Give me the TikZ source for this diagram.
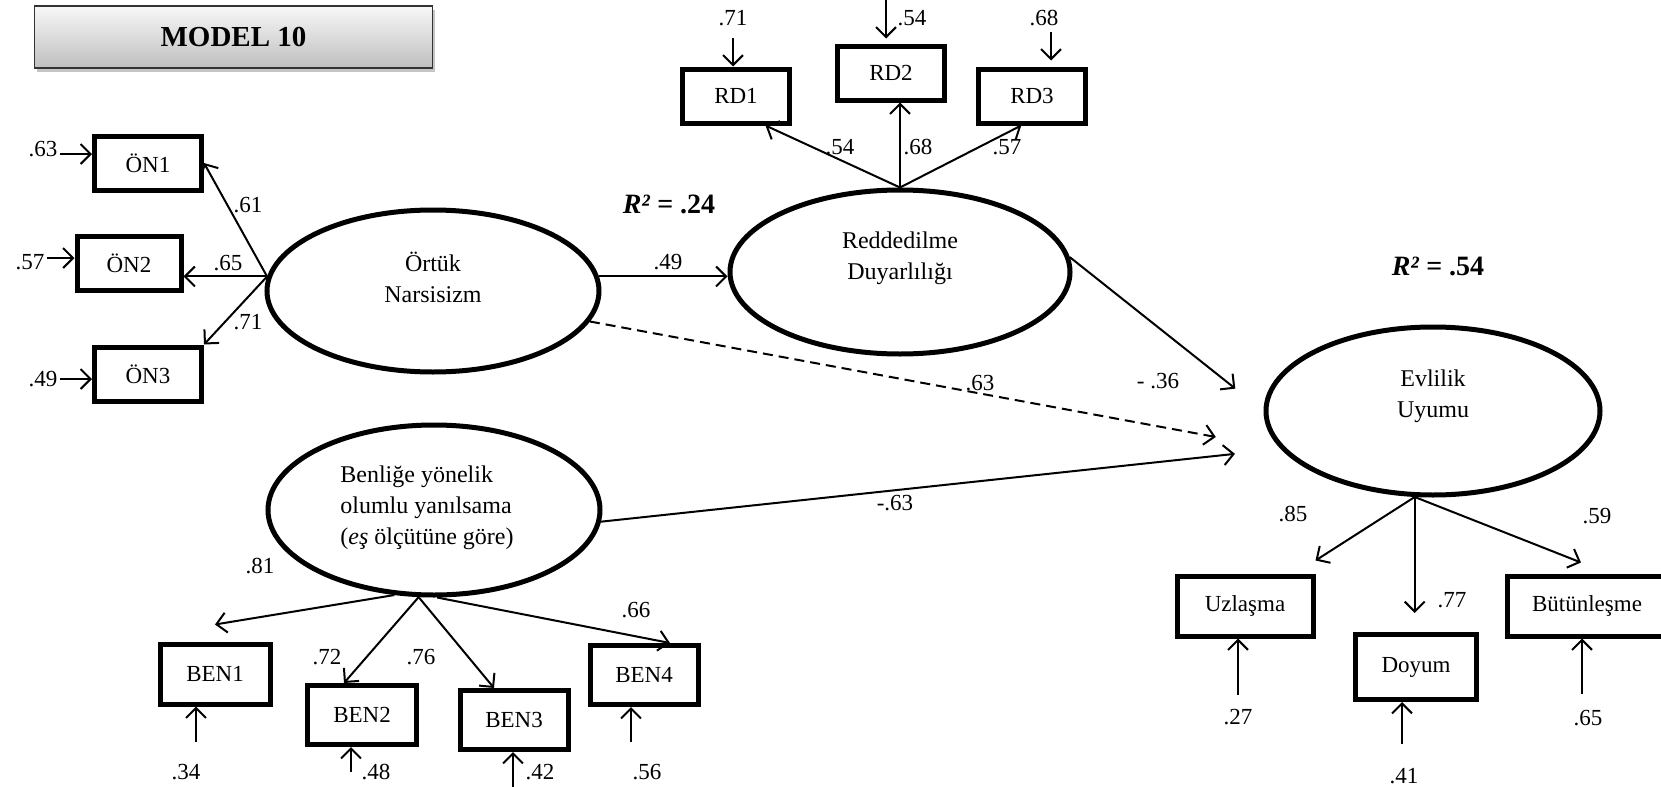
\documentclass[tikz,border=0pt]{standalone}
\usepackage{fontspec}
\setmainfont{Liberation Serif}
\usetikzlibrary{positioning,shapes.geometric,arrows.meta,shadows}

\tikzset{
  lat/.style={draw, ellipse, line width=2.5pt, inner sep=0pt},
  obs/.style={draw, rectangle, line width=2.5pt, inner sep=0pt, minimum width=53.5pt, minimum height=27pt},
  arr/.style={line width=1pt, -{Straight Barb[length=5pt,width=10pt]}},
  lbl/.style={inner sep=1pt},
  txt/.style={align=center, font=\fontsize{12}{15.5}\selectfont},
  rsq/.style={font=\fontsize{14}{16}\selectfont\bfseries},
  title/.style={draw=black!80, line width=0.8pt, top color=black!3, bottom color=black!25,
    drop shadow={shadow xshift=1pt, shadow yshift=-2pt, fill=black!45},
    font=\fontsize{14.5}{17}\selectfont\bfseries}
}

\begin{document}
\begin{tikzpicture}[x=0.5pt, y=-0.5pt, font=\fontsize{11.5}{14}\selectfont]
\useasboundingbox (0,0) rectangle (1661,787);

\node[title, minimum width=199pt, minimum height=31pt] (model) at (233.5,37) {MODEL 10};

\node[lat, minimum width=166pt, minimum height=81pt, label={[txt, yshift=7pt]center:Örtük\\Narsisizm}] (ortuk) at (433,291) {};
\node[lat, minimum width=170pt, minimum height=82pt, label={[txt, yshift=7pt]center:Reddedilme\\Duyarlılığı}] (redd) at (900,272) {};
\node[lat, minimum width=167pt, minimum height=84pt, label={[txt, yshift=7.5pt]center:Evlilik\\Uyumu}] (evl) at (1433,411) {};
\node[lat, minimum width=166pt, minimum height=85pt, label={[txt, align=left, xshift=-3.5pt, yshift=1pt]center:Benliğe yönelik\\olumlu yanılsama\\(\textit{eş} ölçütüne göre)}] (benl) at (434,510) {};

\node[obs] (on1) at (148,163) {ÖN1};
\node[obs, minimum width=52pt] (on2) at (129,263) {ÖN2};
\node[obs] (on3) at (148,374) {ÖN3};
\node[obs] (rd1) at (736,96) {RD1};
\node[obs] (rd2) at (891,73) {RD2};
\node[obs] (rd3) at (1032,96) {RD3};
\node[obs, minimum width=68pt, minimum height=30pt] (uzl) at (1245,606) {Uzlaşma};
\node[obs, minimum width=60.5pt, minimum height=32.5pt] (doy) at (1416,667) {Doyum};
\node[obs, minimum width=80pt, minimum height=30pt] (but) at (1587,606) {Bütünleşme};
\node[obs, minimum width=55pt, minimum height=30pt] (ben1) at (215,674) {BEN1};
\node[obs, minimum width=54.5pt, minimum height=29.5pt] (ben2) at (362,715) {BEN2};
\node[obs, minimum width=54pt, minimum height=29.5pt] (ben3) at (514,720) {BEN3};
\node[obs, minimum width=54pt, minimum height=29.5pt] (ben4) at (644,675) {BEN4};

\node[rsq] (r2-redd) at (669,204) {\textit{R²} = .24};
\node[rsq] (r2-evl) at (1438,266) {\textit{R²} = .54};

\draw[arr] (ortuk.175) -- (on1.east);
\draw[arr] (ortuk.175) -- (ortuk.175 -| on2.east);
\draw[arr] (ortuk.175) -- (on3.north east);
\draw[arr] (ortuk.5) -- (ortuk.5 -| redd.west);
\draw[arr] (redd.north) -- (rd1.-45);
\draw[arr] (redd.north) -- (redd.north |- rd2.south);
\draw[arr] (redd.north) -- (rd3.-110);
\draw[arr, shorten >=18pt] (redd.5) -- (evl.west);
\draw[arr, dash pattern=on 5pt off 3pt, shorten >=33pt] (ortuk.-11) -- (evl.194);
\draw[arr, shorten >=23pt] (benl.-4) -- (evl.194);
\draw[arr] (evl.258) -- ([yshift=6.5pt]uzl.north east);
\draw[arr, shorten >=9.5pt] (evl.258) -- (evl.258 |- doy.north);
\draw[arr] (evl.258) -- ([xshift=-3pt, yshift=5.5pt]but.north);
\draw[arr] (benl.245) -- ([yshift=8.5pt]ben1.north);
\draw[arr] (benl.260) -- ([xshift=-9pt]ben2.north);
\draw[arr] (benl.260) -- ([xshift=-10pt]ben3.north);
\draw[arr] (benl.272) -- ([xshift=13pt]ben4.north);

\node[lbl] (l-on1) at (248,205) {.61};
\node[lbl] (l-on2) at (228,263) {.65};
\node[lbl] (l-on3) at (248,322) {.71};
\node[lbl] (l-redd) at (668,262) {.49};
\node[lbl] (l-rd1) at (840,147) {.54};
\node[lbl] (l-rd2) at (918,147) {.68};
\node[lbl] (l-rd3) at (1007,147) {.57};
\node[lbl] (l-dash) at (980,383) {.63};
\node[lbl] (l-evl) at (1158,381) {- .36};
\node[lbl] (l-benl) at (895,503) {-.63};
\node[lbl] (l-uzl) at (1293,514) {.85};
\node[lbl] (l-doy) at (1452,600) {.77};
\node[lbl] (l-but) at (1597,516) {.59};
\node[lbl] (l-ben1) at (260,566) {.81};
\node[lbl] (l-ben2) at (327,657) {.72};
\node[lbl] (l-ben3) at (421,657) {.76};
\node[lbl] (l-ben4) at (636,610) {.66};

\node[lbl] (e-on1) at (43,149) {.63};
\node[lbl] (e-on2) at (30,262) {.57};
\node[lbl] (e-on3) at (43,379) {.49};
\draw[arr] ([yshift=-2.5pt]e-on1.east) -- ([yshift=-2.5pt]e-on1.east -| on1.west);
\draw[arr] ([yshift=2pt]e-on2.east) -- ([yshift=2pt]e-on2.east -| on2.west);
\draw[arr] (e-on3.east) -- (e-on3.east -| on3.west);

\node[lbl] (e-rd1) at (733,18) {.71};
\coordinate (c-rd2) at (886,0);
\node[lbl] (e-rd2) at (912,18) {.54};
\node[lbl] (e-rd3) at (1044,18) {.68};
\draw[arr, shorten <=5pt] (e-rd1.south) -- (e-rd1.south |- rd1.north);
\draw[arr, shorten >=2.5pt] (c-rd2) -- (c-rd2 |- rd2.north);
\draw[arr, shorten <=2pt, shorten >=3pt] ([xshift=3.5pt]e-rd3.south) -- ([xshift=3.5pt]e-rd3.south |- rd3.north);

\node[lbl] (e-uzl) at (1238,717) {.27};
\node[lbl] (e-doy) at (1404,776) {.41};
\node[lbl] (e-but) at (1588,718) {.65};
\draw[arr, shorten <=6pt] (e-uzl.north) -- (e-uzl.north |- uzl.south);
\draw[arr, shorten <=11pt] ([xshift=-1pt]e-doy.north) -- ([xshift=-1pt]e-doy.north |- doy.south);
\draw[arr, shorten <=7pt] ([xshift=-3pt]e-but.north) -- ([xshift=-3pt]e-but.north |- but.south);

\node[lbl] (e-ben1) at (186,772) {.34};
\coordinate (c-ben2) at (351,772);
\node[lbl] (e-ben2) at (376,772) {.48};
\coordinate (c-ben3) at (513,787);
\node[lbl] (e-ben3) at (540,772) {.42};
\node[lbl] (e-ben4) at (647,772) {.56};
\draw[arr, shorten <=10pt] ([xshift=5pt]e-ben1.north) -- ([xshift=5pt]e-ben1.north |- ben1.south);
\draw[arr] (c-ben2) -- (c-ben2 |- ben2.south);
\draw[arr] (c-ben3) -- (c-ben3 |- ben3.south);
\draw[arr, shorten <=10pt] ([xshift=-8pt]e-ben4.north) -- ([xshift=-8pt]e-ben4.north |- ben4.south);
\end{tikzpicture}
\end{document}
